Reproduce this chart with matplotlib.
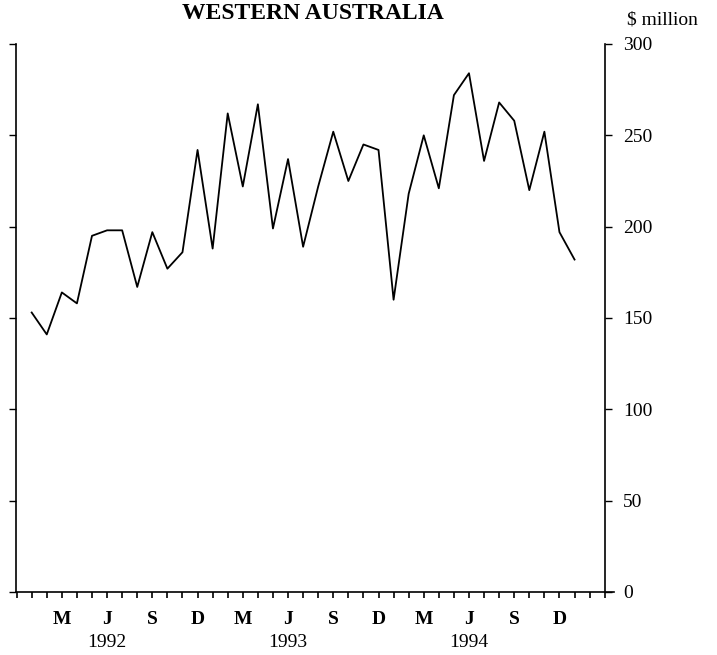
import numpy as np
import matplotlib.pyplot as plt

# monthly values, Jan 1992 .. Jan 1995 ($ million)
values = [153, 141, 164, 158, 195, 198, 198, 167, 197, 177, 186, 242,
          188, 262, 222, 267, 199, 237, 189, 222, 252, 225, 245, 242,
          160, 218, 250, 221, 272, 284, 236, 268, 258, 220, 252, 197,
          182]
month_labels = ['M', 'J', 'S', 'D', 'M', 'J', 'S', 'D', 'M', 'J', 'S', 'D']
month_pos = [2, 5, 8, 11, 14, 17, 20, 23, 26, 29, 32, 35]
year_labels = ['1992', '1993', '1994']
year_pos = [5, 17, 29]
y_ticks = [0, 50, 100, 150, 200, 250, 300]

plt.rcParams['font.family'] = ['Liberation Serif', 'DejaVu Serif']

fig = plt.figure(figsize=(7.17, 6.55), dpi=100)
ax = fig.add_axes([16 / 717, 63 / 655, 589 / 717, 548 / 655])

x = np.arange(len(values))
ax.plot(x, values, color='black', lw=1.3)

ax.set_xlim(-1.04, 38.02)
ax.set_ylim(0, 300)

ax.spines['top'].set_visible(False)
for s in ['left', 'right', 'bottom']:
    ax.spines[s].set_linewidth(1.2)
# bottom axis line runs a little past the right axis
ax.spines['bottom'].set_bounds(-1.04, 38.6)

# month ticks along the bottom, no tick labels
ax.set_xticks(np.arange(-1, 39))
ax.set_xticklabels([])
ax.tick_params(axis='x', direction='out', length=4, width=1.2)

# y ticks on both sides, labels only on the right
ax.set_yticks(y_ticks)
ax.tick_params(axis='y', which='both', direction='out', length=5, width=1,
               left=True, right=True, labelleft=False, labelright=True,
               labelsize=14, pad=8)

for p, lab in zip(month_pos, month_labels):
    ax.text(p, -15.3, lab, ha='center', va='center', fontsize=14,
            fontweight='bold')
for p, lab in zip(year_pos, year_labels):
    ax.text(p, -27.4, lab, ha='center', va='center', fontsize=14)

fig.text(662 / 717, 1 - 20 / 655, '$ million', ha='center', va='center',
         fontsize=14)
fig.text(313 / 717, 1 - 3 / 655, 'WESTERN AUSTRALIA', ha='center',
         va='top', fontsize=17, fontweight='bold')

fig.savefig('out.png', dpi=100)
